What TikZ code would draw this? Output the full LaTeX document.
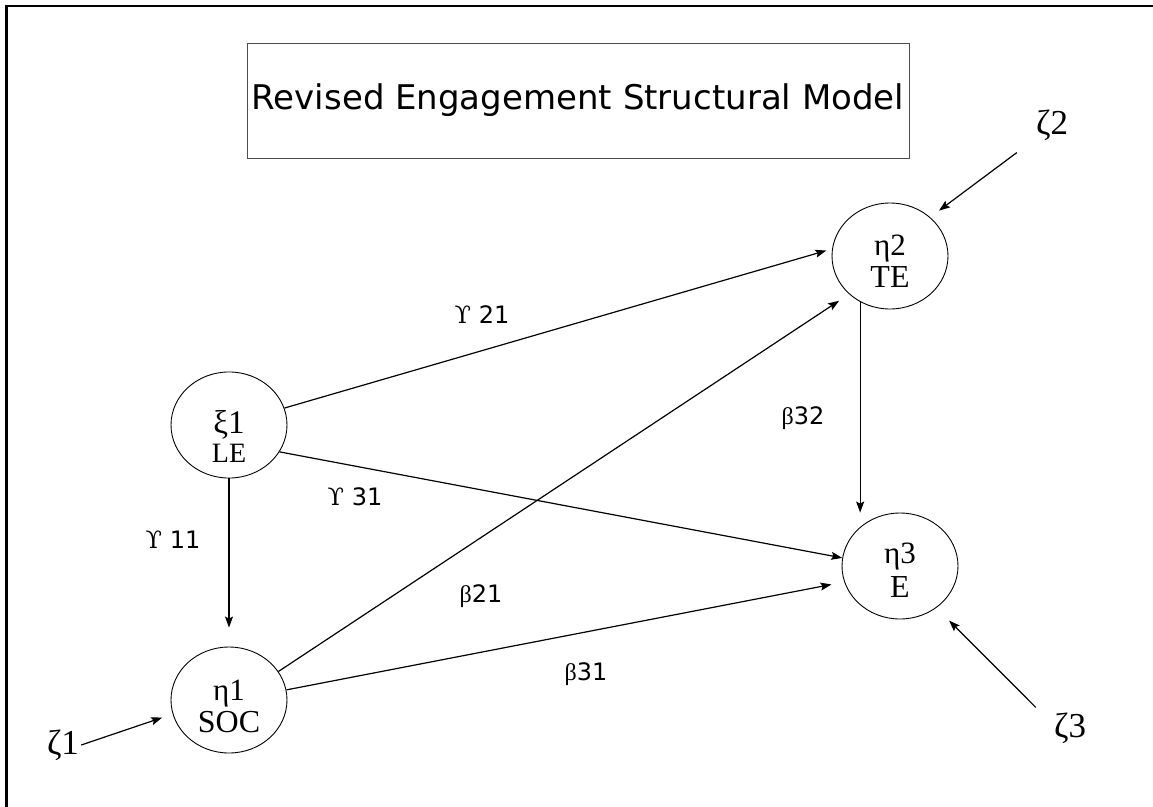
\documentclass[tikz,border=0pt]{standalone}
\usepackage{fontspec}
\setmainfont{DejaVu Sans}
\newfontfamily\serifgr{Liberation Serif}
\newfontfamily\upsgr{DejaVu Serif}
\usetikzlibrary{shapes.geometric,arrows.meta}

\begin{document}
\begin{tikzpicture}[x=1pt,y=-1pt,
  latent/.style={draw,ellipse,line width=0.9pt,minimum width=116pt,minimum height=106pt,
    inner sep=0pt,align=center,font=\serifgr\fontsize{30}{30}\selectfont},
  path/.style={line width=1.2pt,-{Stealth[length=11pt,width=8pt,inset=2pt]}},
  coef/.style={font=\fontsize{24}{28}\selectfont},
  err/.style={font=\serifgr\fontsize{35}{38}\selectfont,inner sep=2pt}]

\useasboundingbox (0,0) rectangle (1153,806);

% Frame (only top and left edges show)
\draw[line width=2.5pt] (6.3,830) -- (6.3,6.2) -- (1170,6.2);

% Title box
\node[draw=black!70,line width=0.8pt,minimum width=662pt,minimum height=115pt,
  font=\fontsize{34}{40}\selectfont] (title) at (578,100.5) {Revised Engagement Structural Model};

% Latent variables
\node[latent] (xi1) at (229,425)
  {\rule{0pt}{46pt}{\fontsize{33}{33}\selectfont ξ1}\\[-1pt]{\fontsize{28}{28}\selectfont LE}};
\node[latent] (eta1) at (229,700)
  {\rule{0pt}{33pt}{\fontsize{31}{31}\selectfont η1}\\[2pt]{\fontsize{32}{32}\selectfont SOC}};
\node[latent] (eta2) at (890,256)
  {\rule{0pt}{31pt}{\fontsize{31}{31}\selectfont η2}\\[2pt]{\fontsize{32}{32}\selectfont TE}};
\node[latent] (eta3) at (900,566)
  {\rule{0pt}{29pt}{\fontsize{31}{31}\selectfont η3}\\[4pt]{\fontsize{32}{32}\selectfont E}};

% Disturbances
\node[err] (zeta1) at (63,745) {ζ1};
\node[err] (zeta2) at (1052,125) {ζ2};
\node[err] (zeta3) at (1070,728) {ζ3};

% Structural paths
\draw[path,shorten >=19pt] (xi1.south) -- (eta1.north);
\draw[path,shorten >=6pt] (xi1.17) -- (eta2.173);
\draw[path] (xi1.-28) -- (eta3.172);
\draw[path,shorten >=12pt] (eta1.30) -- (eta2.223);
\draw[path,shorten >=13pt] (eta1.10) -- (eta3.196);
\draw[path] (eta2.237) -- (eta2.237 |- eta3.north);

% Disturbance paths
\draw[path,shorten >=11pt] (zeta1.east) -- (eta1.194);
\draw[path,shorten >=11pt] ([shift={(-17pt,-10pt)}]zeta2.south west) -- (eta2.44);
\draw[path,shorten >=18pt] ([shift={(-16pt,3pt)}]zeta3.north west) -- (eta3.-49);

% Coefficients
\node[coef] (g21) at (482,315) {{\upsgr ϒ} 21};
\node[coef] (g31) at (355,497) {{\upsgr ϒ} 31};
\node[coef] (g11) at (173,540) {{\upsgr ϒ} 11};
\node[coef] (b32) at (803,418) {{\serifgr β}32};
\node[coef] (b21) at (481,596) {{\serifgr β}21};
\node[coef] (b31) at (586,674) {{\serifgr β}31};

\end{tikzpicture}
\end{document}
